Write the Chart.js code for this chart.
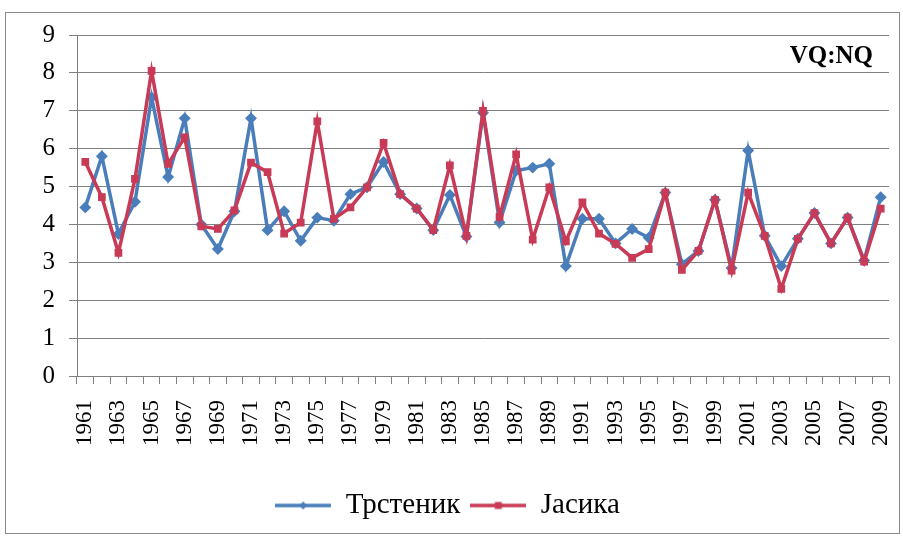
<!DOCTYPE html>
<html>
<head>
<meta charset="utf-8">
<script src="https://cdn.jsdelivr.net/npm/chart.js@4"></script>
<style>
  body { margin: 0; background: #fff; }
  #frame { position: absolute; left: 5px; top: 12px; width: 895px; height: 522px; border: 1px solid #8a8a8a; box-sizing: border-box; }
  #frame canvas { display: block; }
</style>
</head>
<body>
<div id="frame"><canvas id="myChart"></canvas></div>
<script>
// years 1961..2009
var years = [];
for (var y = 1961; y <= 2009; y++) years.push(String(y));

var trstenik = [4.45, 5.8, 3.75, 4.6, 7.35, 5.25, 6.8, 4.0, 3.35, 4.35, 6.8, 3.85, 4.35, 3.57, 4.18,
  4.1, 4.8, 4.98, 5.65, 4.8, 4.42, 3.85, 4.78, 3.68, 6.95, 4.05, 5.42, 5.5, 5.6, 2.9,
  4.15, 4.15, 3.5, 3.88, 3.65, 4.84, 2.95, 3.3, 4.65, 2.85, 5.95, 3.7, 2.9, 3.62, 4.3,
  3.5, 4.18, 3.05, 4.72];
var jasika = [5.65, 4.72, 3.25, 5.2, 8.05, 5.6, 6.3, 3.95, 3.88, 4.37, 5.63, 5.38, 3.76, 4.05, 6.72,
  4.15, 4.45, 4.98, 6.15, 4.8, 4.42, 3.85, 5.56, 3.7, 7.0, 4.2, 5.85, 3.6, 4.98, 3.55,
  4.58, 3.76, 3.49, 3.12, 3.35, 4.84, 2.8, 3.3, 4.65, 2.78, 4.84, 3.7, 2.3, 3.62, 4.3,
  3.5, 4.18, 3.02, 4.42];
var yTicks = [0, 1, 2, 3, 4, 5, 6, 7, 8, 9];

var blue = '#4a7ebb';
var red = '#c83a55';
var serif = "'Liberation Serif', 'Times New Roman', serif";

// legend symbol: line with a marker in the middle
function legendIcon(color, square) {
  var c = document.createElement('canvas');
  c.width = 56; c.height = 10;
  var g = c.getContext('2d');
  g.strokeStyle = color; g.lineWidth = 3.5;
  g.beginPath(); g.moveTo(0, 5); g.lineTo(56, 5); g.stroke();
  g.fillStyle = color;
  if (square) { g.fillRect(24.5, 1.5, 7, 7); }
  else { g.beginPath(); g.moveTo(28, 1); g.lineTo(32, 5); g.lineTo(28, 9); g.lineTo(24, 5); g.closePath(); g.fill(); }
  return c;
}

var labelPlugin = {
  id: 'vqnq',
  afterDraw: function(chart) {
    var g = chart.ctx;
    g.save();
    g.font = "bold 25px " + serif;
    g.fillStyle = '#000';
    g.textAlign = 'right';
    g.textBaseline = 'middle';
    g.fillText('VQ:NQ', chart.chartArea.right - 16, chart.chartArea.top + 22);
    g.restore();
  }
};

var ctx = document.getElementById('myChart').getContext('2d');
var myChart = new Chart(ctx, {
  type: 'line',
  data: {
    labels: years,
    datasets: [{
      label: 'Трстеник',
      data: trstenik,
      borderColor: blue,
      backgroundColor: blue,
      borderWidth: 3.5,
      pointStyle: 'rectRot',
      pointRadius: 3.5,
      tension: 0,
      order: 1
    }, {
      label: 'Јасика',
      data: jasika,
      borderColor: red,
      backgroundColor: red,
      borderWidth: 3.5,
      pointStyle: 'rect',
      pointRadius: 3,
      tension: 0,
      order: 0
    }]
  },
  options: {
    responsive: true,
    maintainAspectRatio: false,
    animation: false,
    layout: { padding: { top: 22, right: 10, left: 0, bottom: 3 } },
    plugins: {
      tooltip: { enabled: false },
      legend: {
        position: 'bottom',
        labels: {
          usePointStyle: true,
          pointStyleWidth: 56,
          font: { family: serif, size: 29 },
          color: '#000',
          padding: 10,
          generateLabels: function(chart) {
            return chart.data.datasets.map(function(ds, i) {
              return {
                text: ds.label,
                pointStyle: legendIcon(ds.borderColor, i === 1),
                fillStyle: ds.borderColor,
                strokeStyle: ds.borderColor,
                lineWidth: 0,
                datasetIndex: i
              };
            });
          }
        }
      }
    },
    scales: {
      x: {
        offset: true,
        grid: { display: true, drawOnChartArea: false, offset: true, color: '#808080', tickLength: 8 },
        border: { color: '#808080' },
        afterFit: function(axis) { axis.height = 105; axis.paddingLeft = 0; axis.paddingRight = 0; },
        ticks: {
          autoSkip: false,
          maxRotation: 90,
          minRotation: 90,
          padding: 16,
          color: '#000',
          font: { family: serif, size: 23 },
          callback: function(v, i) { return i % 2 === 0 ? years[i] : ''; }
        }
      },
      y: {
        min: 0,
        max: 9,
        afterBuildTicks: function(axis) { axis.ticks = yTicks.map(function(v) { return { value: v }; }); },
        afterFit: function(axis) { axis.width = 71; axis.paddingTop = 0; axis.paddingBottom = 0; },
        grid: { color: '#808080', tickLength: 8 },
        border: { color: '#808080' },
        ticks: { color: '#000', font: { family: serif, size: 25 }, padding: 14 }
      }
    }
  },
  plugins: [labelPlugin]
});
</script>
</body>
</html>
